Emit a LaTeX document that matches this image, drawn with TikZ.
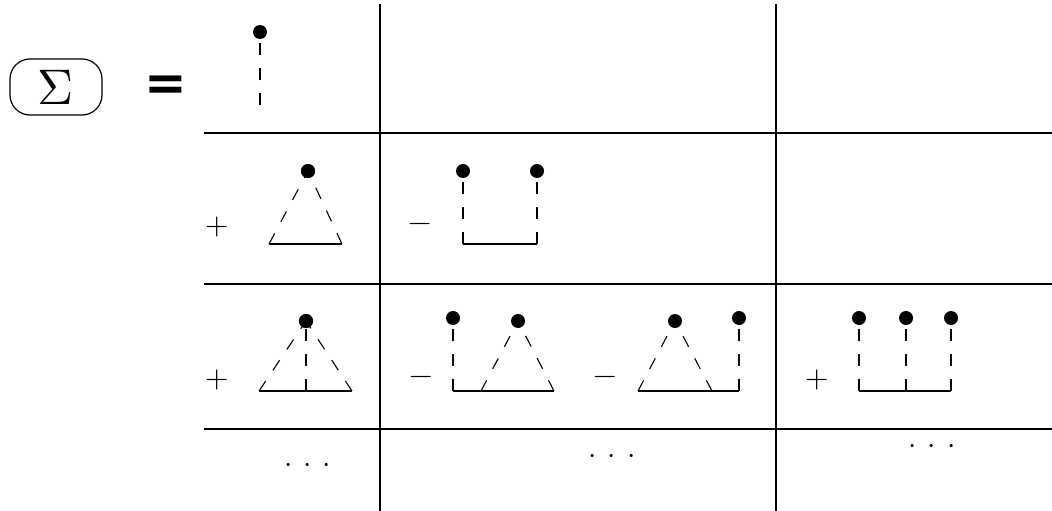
\documentclass[tikz,border=0pt]{standalone}
\usepackage{fontspec}
\usepackage{unicode-math}
\setmathfont{Latin Modern Math}
\newfontfamily\eqfont{DejaVu Sans}
\newcommand{\bigsz}{\fontsize{30}{36}\selectfont}
\newcommand{\dotrow}{$\cdotp\mkern2.5mu\cdotp\mkern2.5mu\cdotp$}
\begin{document}
\begin{tikzpicture}[x=1pt,y=-1pt,
  grid/.style={line width=1.6pt},
  solidln/.style={line width=1.1pt},
  dashln/.style={line width=1.1pt,dash pattern=on 12pt off 13pt},
  blob/.style={circle,fill=black,inner sep=0pt,minimum size=14pt},
  sgn/.style={inner sep=0pt},
  dts/.style={inner sep=0pt}]
\useasboundingbox (0,0) rectangle (1052,511);
% grid
\coordinate (h1a) at (204,133); \coordinate (h1b) at (1052,133);
\coordinate (h2a) at (204,284); \coordinate (h2b) at (1052,284);
\coordinate (h3a) at (204,429); \coordinate (h3b) at (1052,429);
\coordinate (v1a) at (380,4); \coordinate (v1b) at (380,511);
\coordinate (v2a) at (776,4); \coordinate (v2b) at (776,511);
\draw[grid] (h1a) -- (h1b) (h2a) -- (h2b) (h3a) -- (h3b);
\draw[grid] (v1a) -- (v1b) (v2a) -- (v2b);
% left side
\node[draw,line width=1.2pt,rounded corners=20pt,minimum width=92pt,minimum height=56pt,inner sep=0pt] (sig) at (56,87) {\fontsize{50}{60}\selectfont$\Sigma$};
\node[inner sep=0pt] (eq) at (166,88) {\eqfont\bfseries\fontsize{51}{60}\selectfont =};
% row 1
\node[blob] (a1) at (260,32) {};
\coordinate (a1b) at (260,105);
\draw[dashln] (a1b) -- (a1);
% row 2 cell 1
\node[sgn] (p2) at (217,227) {\bigsz$+$};
\node[blob] (b1) at (308,171) {};
\coordinate (b1l) at (269,244); \coordinate (b1r) at (342,244);
\draw[solidln] (b1l) -- (b1r);
\draw[dashln] (b1l) -- (b1.center);
\draw[dashln] (b1r) -- (b1.center);
\node[blob] at (b1) {};
% row 2 cell 2
\node[sgn] (m2) at (420,227) {\bigsz$-$};
\node[blob] (c1) at (463,171) {};
\node[blob] (c2) at (537,171) {};
\coordinate (c1b) at (463,244); \coordinate (c2b) at (537,244);
\draw[solidln] (c1b) -- (c2b);
\draw[dashln] (c1b) -- (c1);
\draw[dashln] (c2b) -- (c2);
% row 3 cell 1
\node[sgn] (p3) at (217,380) {\bigsz$+$};
\node[blob] (d1) at (306,321) {};
\coordinate (d1l) at (259,391); \coordinate (d1m) at (306,391); \coordinate (d1r) at (352,391);
\draw[solidln] (d1l) -- (d1r);
\draw[dashln] (d1l) -- (d1.center);
\draw[dashln] (d1r) -- (d1.center);
\draw[dashln] (d1m) -- (d1.center);
\node[blob] at (d1) {};
% row 3 cell 2, term 1
\node[sgn] (m3a) at (421,380) {\bigsz$-$};
\node[blob] (e1) at (453,318) {};
\node[blob] (e2) at (518,321) {};
\coordinate (e1b) at (453,391); \coordinate (e2l) at (481,391); \coordinate (e2r) at (554,391);
\draw[solidln] (e1b) -- (e2r);
\draw[dashln] (e1b) -- (e1);
\draw[dashln] (e2l) -- (e2);
\draw[dashln] (e2r) -- (e2);
% row 3 cell 2, term 2
\node[sgn] (m3b) at (605,380) {\bigsz$-$};
\node[blob] (f1) at (675,321) {};
\node[blob] (f2) at (739,318) {};
\coordinate (f1l) at (638,391); \coordinate (f1r) at (712,391); \coordinate (f2b) at (739,391);
\draw[solidln] (f1l) -- (f2b);
\draw[dashln] (f1l) -- (f1);
\draw[dashln] (f1r) -- (f1);
\draw[dashln] (f2b) -- (f2);
% row 3 cell 3
\node[sgn] (p3c) at (817,380) {\bigsz$+$};
\node[blob] (g1) at (859,318) {};
\node[blob] (g2) at (906,318) {};
\node[blob] (g3) at (951,318) {};
\coordinate (g1b) at (859,391); \coordinate (g2b) at (906,391); \coordinate (g3b) at (951,391);
\draw[solidln] (g1b) -- (g3b);
\draw[dashln] (g1b) -- (g1);
\draw[dashln] (g2b) -- (g2);
\draw[dashln] (g3b) -- (g3);
% row 4 dots
\node[dts] (k1) at (308,468) {\bigsz\dotrow};
\node[dts] (k2) at (612,459) {\bigsz\dotrow};
\node[dts] (k3) at (932,449) {\bigsz\dotrow};
\end{tikzpicture}
\end{document}
